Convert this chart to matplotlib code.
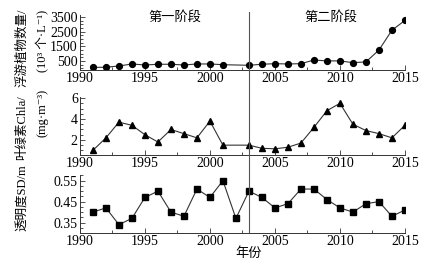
import numpy as np
import matplotlib
matplotlib.use('Agg')
import matplotlib.pyplot as plt
from matplotlib.ticker import MultipleLocator, FixedLocator, FormatStrFormatter
from matplotlib.lines import Line2D
import matplotlib.transforms as mtransforms

plt.rcParams['font.family'] = ['Liberation Serif', 'Noto Sans CJK SC', 'DejaVu Sans']
plt.rcParams['axes.unicode_minus'] = False

# data (2002 missing for phyto and chla)
years_a = [1991, 1992, 1993, 1994, 1995, 1996, 1997, 1998, 1999, 2000, 2001,
           2003, 2004, 2005, 2006, 2007, 2008, 2009, 2010, 2011, 2012, 2013, 2014, 2015]
phyto = [50, 70, 150, 290, 220, 270, 270, 220, 290, 290, 240,
         200, 270, 310, 290, 310, 560, 500, 500, 380, 430, 1240, 2600, 3270]
chla = [1.0, 2.2, 3.7, 3.4, 2.5, 1.8, 3.0, 2.6, 2.2, 3.8, 1.5,
        1.5, 1.2, 1.15, 1.3, 1.7, 3.2, 4.8, 5.5, 3.5, 2.9, 2.6, 2.2, 3.4]
years_sd = list(range(1991, 2016))
sd = [0.40, 0.42, 0.34, 0.37, 0.47, 0.50, 0.40, 0.38, 0.51, 0.47, 0.55,
      0.37, 0.50, 0.47, 0.42, 0.44, 0.51, 0.51, 0.46, 0.42, 0.40, 0.44, 0.45, 0.38, 0.41]

split_year = 2003
fs = 10

fig = plt.figure(figsize=(4.44, 2.66), dpi=100)
ax1 = fig.add_axes([0.180, 0.737, 0.732, 0.207])
ax2 = fig.add_axes([0.180, 0.417, 0.732, 0.218])
ax3 = fig.add_axes([0.180, 0.124, 0.732, 0.218])

ax1.plot(years_a, phyto, color='#333333', lw=0.8, marker='o', ms=4.2,
         mfc='black', mec='black')
ax2.plot(years_a, chla, color='#333333', lw=0.8, marker='^', ms=5,
         mfc='black', mec='black')
ax3.plot(years_sd, sd, color='#333333', lw=0.8, marker='s', ms=4.2,
         mfc='black', mec='black')

ax1.set_ylim(-120, 3650)
ax1.yaxis.set_major_locator(FixedLocator([500, 1500, 2500, 3500]))
ax1.yaxis.set_minor_locator(MultipleLocator(250))
ax2.set_ylim(0.55, 6.1)
ax2.yaxis.set_major_locator(FixedLocator([2, 4, 6]))
ax2.yaxis.set_minor_locator(MultipleLocator(0.5))
ax3.set_ylim(0.30, 0.577)
ax3.yaxis.set_major_locator(FixedLocator([0.35, 0.45, 0.55]))
ax3.yaxis.set_minor_locator(MultipleLocator(0.025))
ax3.yaxis.set_major_formatter(FormatStrFormatter('%.2f'))

for ax in (ax1, ax2, ax3):
    ax.set_xlim(1990, 2015)
    ax.xaxis.set_major_locator(MultipleLocator(5))
    ax.xaxis.set_minor_locator(MultipleLocator(2.5))
    ax.spines['top'].set_visible(False)
    ax.spines['right'].set_visible(False)
    for s in ('left', 'bottom'):
        ax.spines[s].set_linewidth(0.7)
        ax.spines[s].set_color('#333333')
    ax.tick_params(which='both', direction='in', labelsize=fs, pad=1.5,
                   width=0.6, color='#333333')
    ax.tick_params(which='major', length=3.5)
    ax.tick_params(which='minor', length=2)
    ax.patch.set_alpha(0)

# phase divider spanning all panels
trans = mtransforms.blended_transform_factory(ax1.transData, fig.transFigure)
fig.add_artist(Line2D([split_year, split_year], [0.128, 0.955], transform=trans,
                      color='#555555', lw=0.8))

ax1.text(1997.3, 3500, '第一阶段', ha='center', va='center', fontsize=9.5)
ax1.text(2009.3, 3500, '第二阶段', ha='center', va='center', fontsize=9.5)
ax3.text(split_year, -0.35, '年份', transform=ax3.get_xaxis_transform(),
         ha='center', va='center', fontsize=9.5)

fig.text(0.050, 0.82, '浮游植物数量/', rotation=90, ha='center', va='center', fontsize=9)
fig.text(0.095, 0.845, '(10³ 个·L⁻¹)', rotation=90, ha='center', va='center', fontsize=9)
fig.text(0.050, 0.522, '叶绿素Chla/', rotation=90, ha='center', va='center', fontsize=9)
fig.text(0.095, 0.575, '(mg·m⁻³)', rotation=90, ha='center', va='center', fontsize=9)
fig.text(0.050, 0.255, '透明度SD/m', rotation=90, ha='center', va='center', fontsize=9)

fig.savefig('out.png', dpi=100)
